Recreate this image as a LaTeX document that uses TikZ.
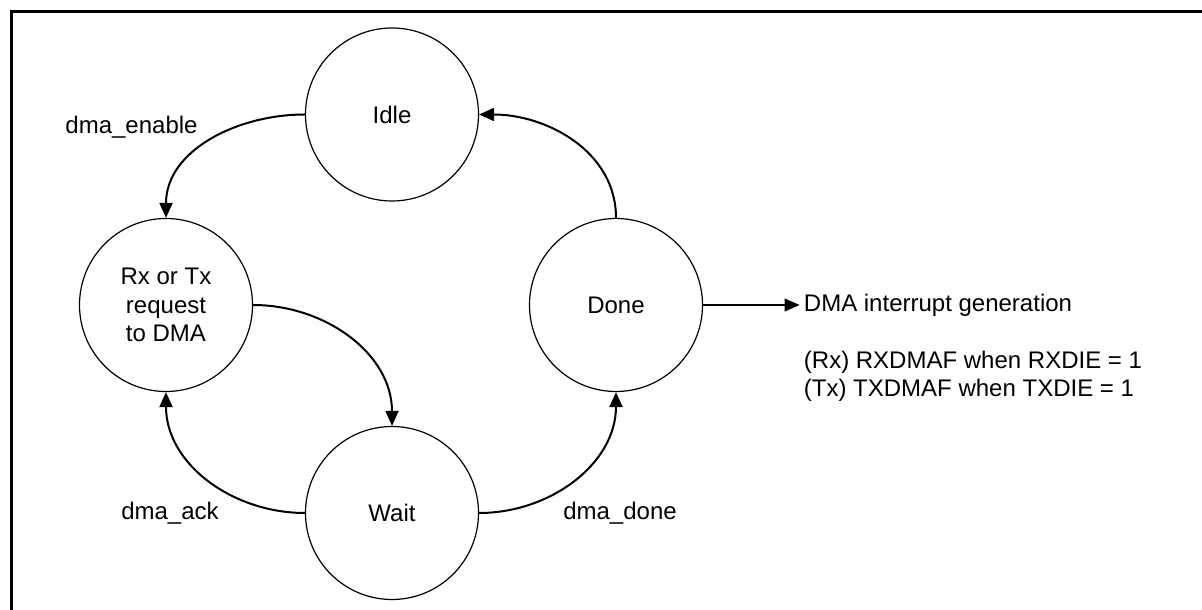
\documentclass[tikz,border=0pt]{standalone}
\usepackage{xcolor}
\usepackage{fontspec}
\setmainfont{Liberation Sans}
\usepackage{tikz}
\usetikzlibrary{arrows.meta,positioning}

\begin{document}
\begin{tikzpicture}[x=1pt,y=1pt,->,>={Triangle[length=15pt,width=13pt]},
                    line width=2pt,
                    every node/.style={font=\fontsize{24}{28.5}\selectfont},
                    state node/.style={circle,draw,line width=1.2pt,minimum size=173pt,
                                       inner sep=0pt,align=center}]
  \useasboundingbox (0,0) rectangle (1202,610);
  \draw[-,line width=3pt] (11,-5) |- (1210,598);

  \node[state node] (idle) at (392,495.5) {Idle};
  \node[state node] (req) [on grid,below left=190.5pt and 226pt of idle] {Rx or Tx\\request\\to DMA};
  \node[state node] (done) [on grid,below right=190.5pt and 224pt of idle] {Done};
  \node[state node] (wait) [on grid,below=398.5pt of idle] {Wait};

  \node (enable) [on grid,below left=12.5pt and 260.5pt of idle] {dma\_enable};
  \node (ack) [on grid,left=222pt of wait] {dma\_ack};
  \node (dmadone) [on grid,right=228pt of wait] {dma\_done};

  \node (irq) [right=96.5pt of done] {DMA interrupt generation};
  \node (flags) [anchor=west,align=left] at ([yshift=-71.5pt]irq.west)
    {(Rx) RXDMAF when RXDIE = 1\\(Tx) TXDMAF when TXDIE = 1};

  \path
    (idle) edge [out=180,in=90] (req)
    (req) edge [out=0,in=90] (wait)
    (wait) edge [out=180,in=-90] (req)
    (wait) edge [out=0,in=-90] (done)
    (done) edge [out=90,in=0] (idle)
    (done) edge [line width=1.2pt] (irq);
\end{tikzpicture}
\end{document}
